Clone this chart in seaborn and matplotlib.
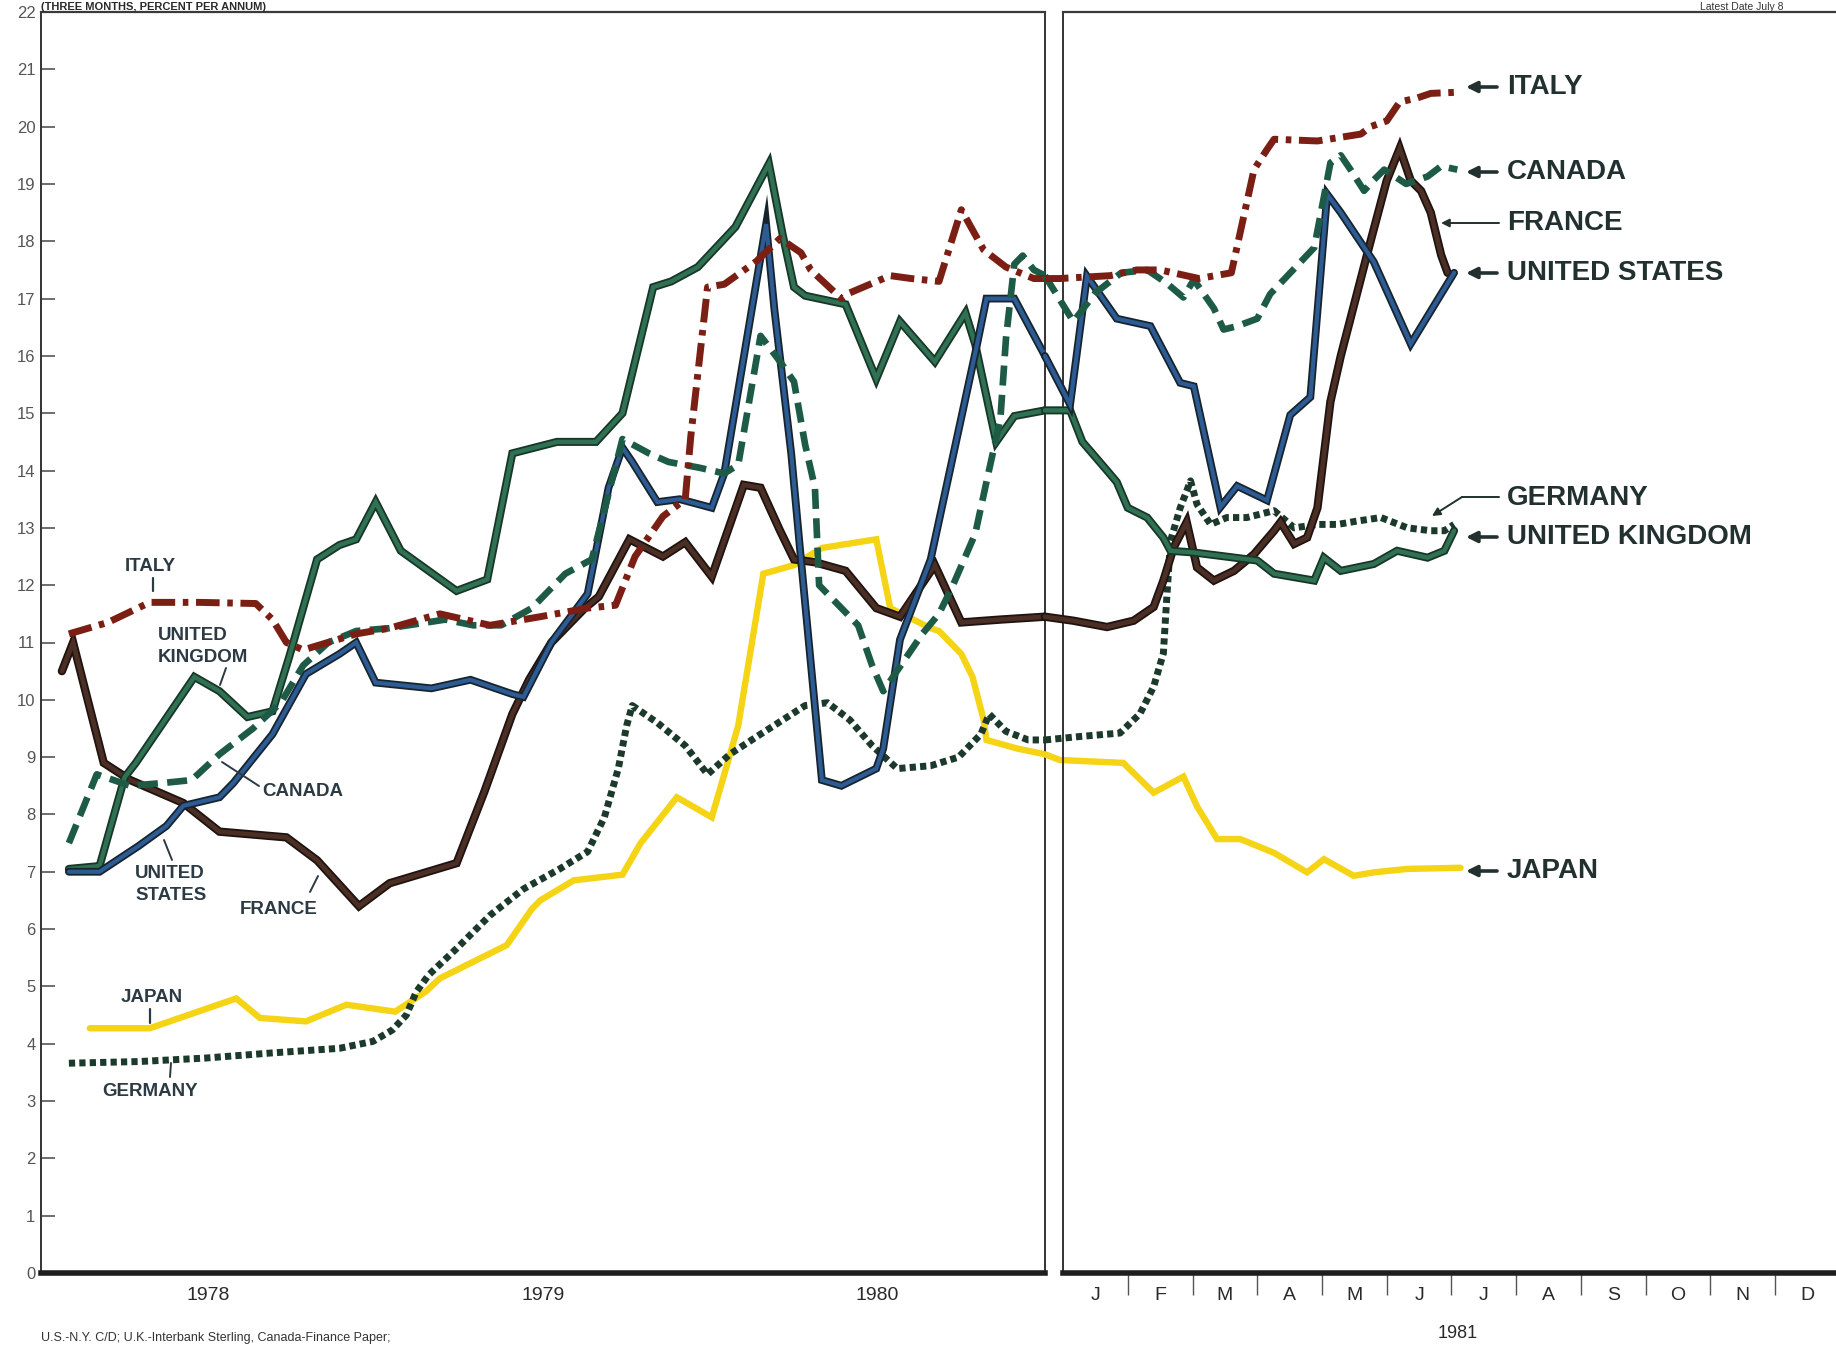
import matplotlib
matplotlib.use("Agg")
import matplotlib.pyplot as plt
import matplotlib.patheffects as pe
from matplotlib.lines import Line2D
import seaborn as sns

# %%
# Three-month rates, percent. Left panel x = months after 1 Jan 1978,
# right panel x = months after 1 Jan 1981 (first point sits in the gap between panels)
italy_78 = [(1.0, 11.15), (2.4, 11.35), (3.9, 11.7), (5.7, 11.7), (7.7, 11.68), (8.3, 11.4),
            (8.8, 11.0), (9.4, 10.87), (11.3, 11.15), (12.5, 11.25), (14.3, 11.5), (16.1, 11.3),
            (17.9, 11.45), (19.6, 11.6), (20.6, 11.65), (21.3, 12.5), (22.3, 13.2), (23.1, 13.5),
            (23.3, 14.6), (23.9, 17.2), (24.5, 17.25), (25.65, 17.65), (26.5, 18.05), (27.25, 17.8),
            (27.6, 17.5), (28.7, 17.0), (29.0, 17.1), (30.45, 17.4), (31.2, 17.35), (32.2, 17.3),
            (33.0, 18.55), (33.8, 17.85), (34.6, 17.55), (35.6, 17.35), (36.0, 17.35)]
canada_78 = [(1.0, 7.5), (2.0, 8.7), (3.2, 8.5), (4.4, 8.55), (5.4, 8.6), (6.4, 9.05), (7.6, 9.5),
             (8.6, 9.95), (9.4, 10.6), (10.3, 11.0), (11.3, 11.2), (12.5, 11.25), (14.5, 11.4),
             (15.5, 11.3), (16.5, 11.3), (17.6, 11.6), (18.8, 12.2), (19.75, 12.45), (20.85, 14.55),
             (21.8, 14.3), (22.5, 14.15), (23.6, 14.05), (24.5, 13.95), (25.0, 14.1), (25.8, 16.35),
             (26.5, 15.9), (27.0, 15.55), (27.4, 14.45), (27.75, 13.7), (27.9, 12.0), (28.5, 11.7),
             (29.3, 11.3), (29.8, 10.6), (30.2, 10.15), (31.6, 11.15), (32.2, 11.5), (32.7, 12.0),
             (33.5, 12.9), (33.9, 13.8), (34.4, 14.9), (34.6, 16.3), (34.9, 17.6), (35.2, 17.75),
             (35.6, 17.5), (36.0, 17.4)]
france_78 = [(0.75, 10.5), (1.15, 11.0), (2.25, 8.9), (3.2, 8.6), (5.1, 8.2), (6.4, 7.7), (8.8, 7.6),
             (9.9, 7.2), (11.4, 6.4), (12.5, 6.8), (14.9, 7.15), (15.9, 8.4), (16.9, 9.75),
             (17.5, 10.35), (18.3, 11.0), (19.5, 11.6), (20.0, 11.8), (21.1, 12.8), (22.3, 12.5),
             (23.1, 12.75), (24.05, 12.15), (25.2, 13.75), (25.8, 13.7), (26.5, 12.95), (27.0, 12.45),
             (27.75, 12.4), (28.85, 12.25), (29.95, 11.6), (30.8, 11.45), (32.05, 12.35), (33.0, 11.35),
             (34.4, 11.4), (36.0, 11.45)]
us_78 = [(1.0, 7.0), (2.1, 7.0), (3.5, 7.45), (4.5, 7.8), (5.1, 8.15), (6.4, 8.3), (6.9, 8.55),
         (8.3, 9.4), (9.5, 10.45), (10.7, 10.8), (11.3, 11.0), (12.0, 10.3), (14.0, 10.2),
         (15.4, 10.35), (16.9, 10.1), (17.3, 10.05), (18.3, 11.0), (19.6, 11.85), (20.35, 13.7),
         (20.85, 14.4), (21.2, 14.15), (22.1, 13.45), (22.9, 13.5), (24.05, 13.35), (24.5, 13.95),
         (26.0, 18.3), (26.3, 16.8), (26.9, 14.3), (27.25, 12.45), (28.0, 8.6), (28.7, 8.5),
         (29.95, 8.8), (30.2, 9.15), (30.8, 11.05), (31.9, 12.45), (33.5, 16.05), (33.9, 17.0),
         (34.9, 17.0), (36.0, 16.0)]
uk_78 = [(1.0, 7.05), (2.1, 7.1), (3.0, 8.65), (3.4, 8.9), (5.5, 10.4), (6.4, 10.15), (7.4, 9.7),
         (8.3, 9.8), (8.9, 10.75), (9.9, 12.45), (10.7, 12.7), (11.3, 12.8), (12.0, 13.45),
         (12.9, 12.6), (14.9, 11.9), (16.0, 12.1), (16.9, 14.3), (18.5, 14.5), (19.9, 14.5),
         (20.85, 15.0), (21.95, 17.2), (22.6, 17.3), (23.55, 17.55), (24.9, 18.25), (26.1, 19.35),
         (26.6, 18.1), (27.0, 17.2), (27.4, 17.05), (28.85, 16.9), (29.95, 15.6), (30.8, 16.6),
         (32.05, 15.9), (33.15, 16.75), (33.5, 16.2), (34.25, 14.5), (34.9, 14.95), (36.0, 15.05)]
japan_78 = [(1.75, 4.27), (3.9, 4.27), (7.0, 4.79), (7.85, 4.45), (9.5, 4.39), (10.95, 4.68),
            (12.7, 4.56), (13.8, 4.91), (14.3, 5.14), (15.25, 5.37), (16.7, 5.72), (17.6, 6.35),
            (17.9, 6.5), (19.1, 6.85), (20.85, 6.95), (21.5, 7.5), (22.8, 8.3), (24.05, 7.95),
            (24.5, 8.7), (25.0, 9.55), (25.9, 12.2), (27.0, 12.35), (28.0, 12.65), (29.95, 12.8),
            (30.45, 11.6), (31.9, 11.25), (32.2, 11.2), (33.0, 10.8), (33.4, 10.4), (33.8, 9.65),
            (33.9, 9.3), (35.0, 9.15), (36.0, 9.05)]
germany_78 = [(1.0, 3.66), (3.55, 3.69), (5.9, 3.75), (8.3, 3.84), (10.7, 3.92), (11.9, 4.04),
              (12.6, 4.24), (13.1, 4.5), (13.45, 4.9), (13.9, 5.2), (14.9, 5.66), (16.1, 6.24),
              (17.3, 6.7), (18.6, 7.05), (19.6, 7.35), (20.2, 7.95), (20.7, 8.8), (21.0, 9.55),
              (21.2, 9.9), (22.1, 9.6), (23.1, 9.2), (23.9, 8.7), (24.7, 9.05), (25.8, 9.4),
              (27.4, 9.9), (28.2, 9.95), (29.0, 9.65), (29.8, 9.2), (30.7, 8.8), (31.9, 8.85),
              (32.9, 9.0), (33.7, 9.4), (34.0, 9.75), (34.6, 9.45), (35.4, 9.3), (36.0, 9.3)]

italy_81 = [(-0.28, 17.35), (-0.05, 17.35), (0.73, 17.4), (1.14, 17.5), (1.5, 17.5), (1.9, 17.4),
            (2.1, 17.35), (2.6, 17.45), (2.95, 19.25), (3.15, 19.6), (3.26, 19.78), (3.93, 19.75),
            (4.6, 19.87), (4.75, 20.0), (5.0, 20.1), (5.2, 20.43), (5.47, 20.5), (5.68, 20.58),
            (6.09, 20.6)]
canada_81 = [(-0.28, 17.4), (0.16, 16.6), (0.5, 17.1), (0.9, 17.45), (1.3, 17.5), (1.6, 17.27),
             (1.86, 17.02), (2.02, 17.33), (2.33, 16.83), (2.48, 16.46), (2.69, 16.52), (3.0, 16.65),
             (3.2, 17.08), (3.36, 17.27), (3.62, 17.58), (3.88, 17.89), (4.13, 19.37), (4.29, 19.5),
             (4.44, 19.25), (4.65, 18.88), (4.8, 19.07), (4.96, 19.25), (5.3, 19.0), (5.63, 19.13),
             (5.84, 19.31), (6.09, 19.25)]
france_81 = [(-0.28, 11.45), (0.16, 11.38), (0.68, 11.27), (1.09, 11.38), (1.4, 11.62), (1.55, 12.08),
             (1.71, 12.66), (1.91, 13.1), (2.07, 12.31), (2.33, 12.08), (2.64, 12.25), (2.95, 12.54),
             (3.26, 12.95), (3.36, 13.1), (3.57, 12.72), (3.77, 12.83), (3.93, 13.35), (4.13, 15.2),
             (4.29, 16.0), (4.75, 18.0), (5.0, 19.06), (5.2, 19.62), (5.37, 19.06), (5.53, 18.88),
             (5.68, 18.5), (5.84, 17.76), (5.94, 17.45)]
us_81 = [(-0.28, 16.0), (0.11, 15.15), (0.37, 17.39), (0.83, 16.65), (1.35, 16.52), (1.81, 15.53),
         (2.02, 15.47), (2.43, 13.36), (2.69, 13.73), (3.15, 13.48), (3.51, 14.97), (3.82, 15.28),
         (4.08, 18.82), (4.29, 18.5), (4.8, 17.64), (5.37, 16.21), (6.04, 17.45)]
uk_81 = [(-0.28, 15.05), (0.11, 15.05), (0.3, 14.5), (0.68, 14.0), (0.83, 13.8), (1.0, 13.35),
         (1.3, 13.18), (1.55, 12.83), (1.66, 12.6), (2.02, 12.57), (3.0, 12.43), (3.26, 12.2),
         (3.88, 12.08), (4.03, 12.48), (4.29, 12.25), (4.8, 12.37), (5.16, 12.6), (5.63, 12.48),
         (5.89, 12.6), (6.04, 12.95)]
japan_81 = [(-0.28, 9.05), (-0.05, 8.95), (0.93, 8.9), (1.4, 8.38), (1.86, 8.66), (2.07, 8.14),
            (2.38, 7.57), (2.74, 7.57), (3.26, 7.33), (3.77, 6.99), (4.03, 7.22), (4.49, 6.93),
            (4.8, 6.99), (5.32, 7.05), (6.14, 7.07)]
germany_81 = [(-0.28, 9.3), (0.26, 9.36), (0.88, 9.42), (1.19, 9.76), (1.4, 10.23), (1.55, 10.81),
              (1.6, 11.73), (1.66, 12.77), (1.81, 13.35), (1.97, 13.82), (2.07, 13.41), (2.28, 13.06),
              (2.53, 13.18), (2.84, 13.18), (3.26, 13.3), (3.57, 13.0), (3.93, 13.06), (4.24, 13.06),
              (4.55, 13.12), (4.91, 13.18), (5.32, 13.0), (5.68, 12.95), (5.89, 12.95), (6.04, 13.06)]

years = ["1978", "1979", "1980"]
months = ["J", "F", "M", "A", "M", "J", "J", "A", "S", "O", "N", "D"]

# %%
sns.set_theme(style="white")
plt.rcParams["font.family"] = ["Liberation Sans", "DejaVu Sans"]

W, H = 1836, 1346
fig = plt.figure(figsize=(W / 100, H / 100), dpi=100)
fig.patch.set_facecolor("white")

top, bot = 12, 1273
ax1 = fig.add_axes([41 / W, (H - bot) / H, (1045 - 41) / W, (bot - top) / H])
ax2 = fig.add_axes([1063 / W, (H - bot) / H, (1840 - 1063) / W, (bot - top) / H])

styles = [
    ("japan", japan_78, japan_81, dict(color="#f4d414", lw=4.6, ls="-"), None, 2),
    ("germany", germany_78, germany_81, dict(color="#1c3a2c", lw=5.0, ls=(0, (0.9, 0.6))), None, 3),
    ("france", france_78, france_81, dict(color="#4b2e24", lw=3.4, ls="-"), "#1e1310", 4),
    ("uk", uk_78, uk_81, dict(color="#2f7152", lw=3.2, ls="-"), "#173627", 5),
    ("us", us_78, us_81, dict(color="#2d5b93", lw=3.0, ls="-"), "#17242e", 6),
    ("canada", canada_78, canada_81, dict(color="#1d5b47", lw=4.8, ls=(0, (3.0, 1.4))), None, 7),
    ("italy", italy_78, italy_81, dict(color="#7b1f14", lw=5.0, ls=(0, (3.4, 1.1, 0.8, 1.1))), None, 8),
]

for name, left, right, st, edge, z in styles:
    extra = {}
    if edge:
        extra["path_effects"] = [pe.Stroke(linewidth=st["lw"] + 2.6, foreground=edge), pe.Normal()]
    for ax, pts, clip in ((ax1, left, True), (ax2, right, False)):
        xs = [p[0] for p in pts]
        ys = [p[1] for p in pts]
        sns.lineplot(x=xs, y=ys, ax=ax, color=st["color"], linewidth=st["lw"], linestyle=st["ls"],
                     sort=False, estimator=None, zorder=z, clip_on=clip,
                     solid_joinstyle="miter", **extra)

for ax in (ax1, ax2):
    ax.set_ylim(0, 22)
    ax.set_facecolor("white")
    ax.set_xlabel("")
    ax.set_ylabel("")
    ax.spines["bottom"].set_linewidth(4)
    ax.spines["bottom"].set_color("#1e1e1e")
    ax.spines["top"].set_linewidth(1.6)
    ax.spines["top"].set_color("#3a3a3a")
    ax.spines["left"].set_linewidth(1.4)
    ax.spines["left"].set_color("#333333")

ax1.set_xlim(0, 36)
ax1.spines["right"].set_linewidth(1.4)
ax1.spines["right"].set_color("#333333")
ax1.set_yticks(range(0, 23))
ax1.tick_params(axis="y", direction="in", length=10, width=1.2, color="#555555",
                labelsize=12, labelcolor="#555555", pad=4, left=True)
ax1.set_xticks([6, 18, 30], years)
ax1.tick_params(axis="x", length=0, pad=10, labelsize=14, labelcolor="#2a2a2a")

ax2.set_xlim(0, 12)
ax2.spines["right"].set_visible(False)
ax2.set_yticks([])
ax2.set_xticks([m + 0.5 for m in range(12)], months)
ax2.set_xticks(range(1, 12), minor=True)
ax2.tick_params(axis="x", which="major", length=0, pad=10, labelsize=14, labelcolor="#2a2a2a")
ax2.tick_params(axis="x", which="minor", direction="out", length=16, width=1.0,
                color="#555555", bottom=True)


# %%
def ftxt(x, y, s, **kw):
    fig.text(x / W, 1 - y / H, s, **kw)


def fline(pts, **kw):
    fig.add_artist(Line2D([p[0] / W for p in pts], [1 - p[1] / H for p in pts],
                          transform=fig.transFigure, **kw))


def farrow(tail, tip, lw=2.6, ms=18, color="#243131"):
    fig.add_artist(matplotlib.patches.FancyArrowPatch(
        (tail[0] / W, 1 - tail[1] / H), (tip[0] / W, 1 - tip[1] / H),
        transform=fig.transFigure, arrowstyle="-|>", mutation_scale=ms,
        lw=lw, color=color, shrinkA=0, shrinkB=0))


# header / footer texts, kept small so they fit in the thin margins
ftxt(41, 10, "(THREE MONTHS, PERCENT PER ANNUM)", fontsize=8, weight="bold",
     color="#2a2a2a", va="baseline", ha="left")
ftxt(1700, 10, "Latest Date July 8", fontsize=7.5, color="#333333", va="baseline", ha="left")
ftxt(41, 1344, "U.S.-N.Y. C/D; U.K.-Interbank Sterling, Canada-Finance Paper;", fontsize=9,
     color="#333333", va="bottom", ha="left")
ftxt(1458, 1334, "1981", fontsize=13, color="#2a2a2a", va="center", ha="center")

# right side labels
rc = "#223030"
right_labels = [("ITALY", 87), ("CANADA", 172), ("FRANCE", 223), ("UNITED STATES", 273),
                ("GERMANY", 498), ("UNITED KINGDOM", 537), ("JAPAN", 871)]
for lab, y in right_labels:
    ftxt(1507, y, lab, fontsize=20, weight="bold", color=rc, va="center", ha="left")
for y in (87, 172, 273, 537, 871):
    farrow((1497, y), (1466, y), lw=2.6, ms=16, color=rc)
farrow((1499, 223), (1441, 223), lw=1.4, ms=12, color=rc)
fline([(1499, 497), (1462, 497)], lw=1.4, color=rc)
farrow((1462, 497), (1432, 516), lw=1.4, ms=12, color=rc)

# left in-chart labels
lc = "#2c3a44"
lk = dict(fontsize=13.5, weight="bold", color=lc, va="center", ha="left")
ftxt(125, 566, "ITALY", **lk)
fline([(153, 578), (153, 591)], lw=1.6, color=lc)
ftxt(158, 636, "UNITED", **lk)
ftxt(158, 657, "KINGDOM", **lk)
fline([(226, 668), (220, 685)], lw=1.4, color=lc)
ftxt(262, 792, "CANADA", **lk)
fline([(259, 786), (222, 762)], lw=1.4, color=lc)
ftxt(135, 874, "UNITED", **lk)
ftxt(135, 896, "STATES", **lk)
fline([(172, 860), (164, 840)], lw=1.4, color=lc)
ftxt(240, 910, "FRANCE", **lk)
fline([(310, 892), (318, 876)], lw=1.4, color=lc)
ftxt(121, 997, "JAPAN", **lk)
fline([(150, 1009), (150, 1023)], lw=1.6, color=lc)
ftxt(102, 1092, "GERMANY", **lk)
fline([(170, 1077), (171, 1063)], lw=1.4, color=lc)

fig.savefig("out.png", dpi=100, facecolor="white")
